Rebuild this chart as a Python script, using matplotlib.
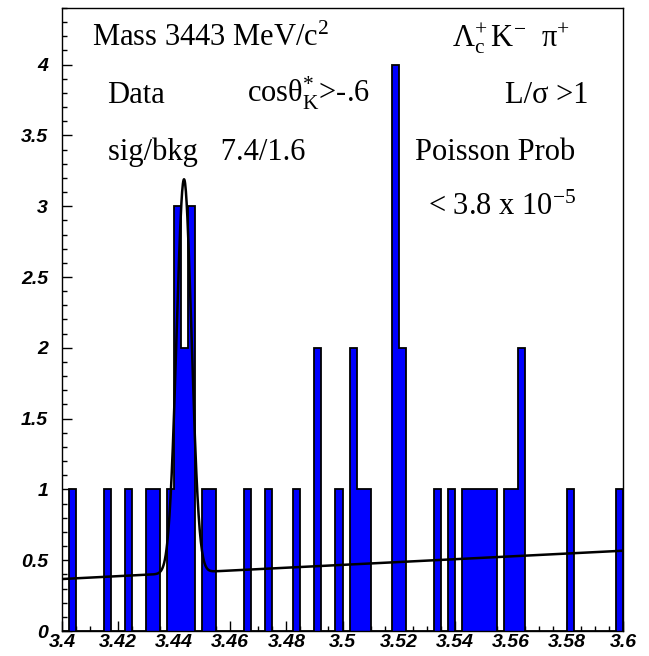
import numpy as np
import matplotlib
matplotlib.use("Agg")
import matplotlib.pyplot as plt
from matplotlib.ticker import MultipleLocator, FuncFormatter

# candidate mass spectrum, 80 bins of 2.5 MeV between 3.4 and 3.6 GeV
X_LO, X_HI, N_BINS = 3.4, 3.6, 80
filled_bins = [1, 6, 9, 12, 13, 15, 16, 17, 18, 20, 21, 26, 29, 33, 36,
               39, 41, 42, 43, 47, 48, 53, 55, 57, 58, 59, 60, 61, 63,
               64, 65, 72, 79]
filled_counts = [1, 1, 1, 1, 1, 1, 3, 2, 3, 1, 1, 1, 1, 1, 2,
                 1, 2, 1, 1, 4, 2, 1, 1, 1, 1, 1, 1, 1, 1,
                 1, 2, 1, 1]

# gaussian + linear background fit
fit_mean = 3.4435
fit_sigma = 0.00265
fit_amp = 2.78
bkg_at_lo = 0.367
bkg_slope = 1.0

edges = np.linspace(X_LO, X_HI, N_BINS + 1)
counts = np.zeros(N_BINS)
counts[filled_bins] = filled_counts

plt.rcParams["mathtext.fontset"] = "custom"
plt.rcParams["mathtext.rm"] = "Liberation Serif"
plt.rcParams["mathtext.it"] = "Liberation Serif:italic"
plt.rcParams["mathtext.bf"] = "Liberation Serif:bold"

fig = plt.figure(figsize=(6.49, 6.56), dpi=100)
ax = fig.add_axes([62 / 649, 25 / 656, 561 / 649, 623 / 656])

ax.stairs(counts, edges, fill=True, facecolor="#0000ff", edgecolor="none", zorder=2)
ax.stairs(counts, edges, baseline=0, color="black", linewidth=1.3, zorder=3)

xf = np.linspace(X_LO, X_HI, 1500)
yf = fit_amp * np.exp(-0.5 * ((xf - fit_mean) / fit_sigma) ** 2) + bkg_at_lo + bkg_slope * (xf - X_LO)
ax.plot(xf, yf, color="black", linewidth=1.8, zorder=4)

ax.set_xlim(X_LO, X_HI)
ax.set_ylim(0, 4.4)

ax.xaxis.set_major_locator(MultipleLocator(0.02))
ax.xaxis.set_minor_locator(MultipleLocator(0.005))
ax.yaxis.set_major_locator(MultipleLocator(0.5))
ax.yaxis.set_minor_locator(MultipleLocator(0.1))
fmt = FuncFormatter(lambda v, p: f"{round(v, 4):g}")
ax.xaxis.set_major_formatter(fmt)
ax.yaxis.set_major_formatter(fmt)

ax.tick_params(which="both", direction="in", top=False, right=False, color="black", width=1)
ax.tick_params(which="major", length=7.5)
ax.tick_params(which="minor", length=3.8)
ax.tick_params(axis="x", which="major", pad=2.5)
ax.tick_params(axis="y", which="major", pad=10)
for lab in ax.get_xticklabels() + ax.get_yticklabels():
    lab.set_fontfamily("Liberation Sans")
    lab.set_fontweight("bold")
    lab.set_fontstyle("italic")
    lab.set_fontsize(14)
for sp in ax.spines.values():
    sp.set_linewidth(1.0)
    sp.set_zorder(5)

txt = dict(transform=ax.transAxes, family="Liberation Serif", fontsize=22,
           va="baseline", ha="left", color="black", zorder=6)
ax.text(0.053, 0.939, r"Mass 3443 MeV/c$^{2}$", **txt)
ax.text(0.695, 0.939, r"$\Lambda_{\mathrm{c}}^{+}\,$K$^{-}$  $\mathrm{\pi}^{+}$", **txt)
ax.text(0.080, 0.848, "Data", **txt)
ax.text(0.330, 0.848, r"cosθ$_{\mathrm{K}}^{*}$>-.6", **txt)
ax.text(0.790, 0.848, "L/σ >1", **txt)
ax.text(0.082, 0.756, "sig/bkg   7.4/1.6", **txt)
ax.text(0.629, 0.756, "Poisson Prob", **txt)
ax.text(0.652, 0.668, r"< 3.8 x 10$^{-5}$", **txt)

fig.savefig("out.png", dpi=100, facecolor="white")
